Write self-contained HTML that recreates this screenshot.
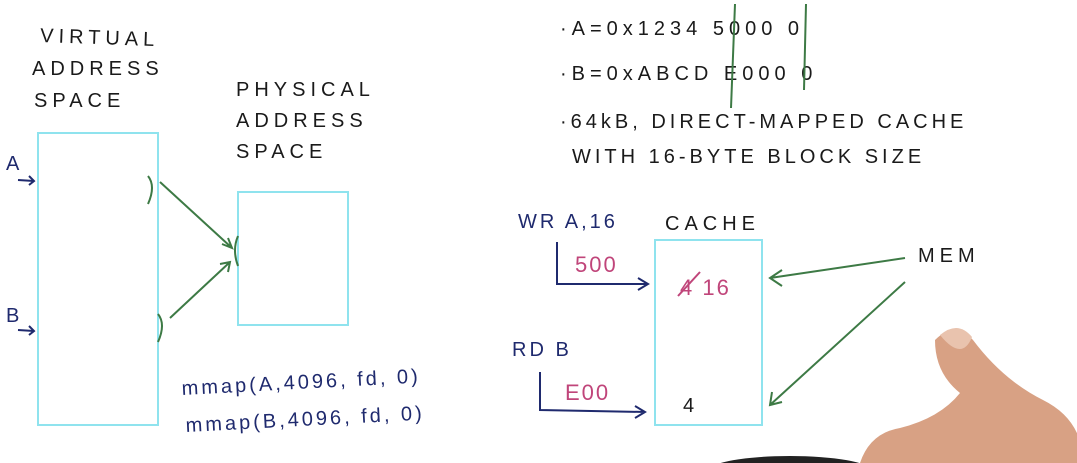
<!DOCTYPE html>
<html><head><meta charset="utf-8"><style>
html,body{margin:0;padding:0;background:#fff;}
svg{display:block}
text{font-family:"Liberation Sans",sans-serif;}
.blk{fill:#1a1a1a;font-size:20px;letter-spacing:5px}
.blu{fill:#1f2a6e;font-size:20px;letter-spacing:3px}
.pnk{fill:#c0457a;font-size:22px;letter-spacing:2px}
</style></head><body>
<svg width="1077" height="463" viewBox="0 0 1077 463">
<rect width="1077" height="463" fill="#fff"/>
<g>
<text class="blk" x="40" y="42" transform="rotate(2 40 42)">VIRTUAL</text>
<text class="blk" x="32" y="75">ADDRESS</text>
<text class="blk" x="34" y="107">SPACE</text>
</g>
<g>
<text class="blk" x="236" y="96">PHYSICAL</text>
<text class="blk" x="236" y="127">ADDRESS</text>
<text class="blk" x="236" y="158">SPACE</text>
</g>
<rect x="38" y="133" width="120" height="292" fill="none" stroke="#8fe3ee" stroke-width="2"/>
<rect x="238" y="192" width="110" height="133" fill="none" stroke="#8fe3ee" stroke-width="2"/>
<rect x="655" y="240" width="107" height="185" fill="none" stroke="#8fe3ee" stroke-width="2"/>
<g><text class="blu" x="6" y="170">A</text><path d="M18 180 L34 181 M29 176 L34 181 L29 185" stroke="#1f2a6e" stroke-width="2" fill="none"/></g>
<g><text class="blu" x="6" y="322">B</text><path d="M18 330 L34 331 M29 326 L34 331 L29 335" stroke="#1f2a6e" stroke-width="2" fill="none"/></g>
<g stroke="#3d7a45" stroke-width="2" fill="none">
<path d="M148 176 q8 10 0 28"/><path d="M160 182 L232 248 M222 244 L232 248 L228 238"/>
<path d="M158 314 q8 10 0 28"/><path d="M170 318 L230 262 M220 264 L230 262 L228 272"/>
<path d="M238 236 q-6 14 0 30"/>
</g>
<g>
<text class="blu" x="182" y="395" font-size="22" transform="rotate(-3 182 395)">mmap(A,4096, fd, 0)</text>
<text class="blu" x="186" y="432" font-size="22" transform="rotate(-3 186 432)">mmap(B,4096, fd, 0)</text>
</g>
<g>
<text class="blk" x="560" y="35" font-size="26">·A=0x1234 5000 0</text>
<text class="blk" x="560" y="80" font-size="26">·B=0xABCD E000 0</text>
<path d="M735 4 L731 108 M806 4 L804 90" stroke="#3d7a45" stroke-width="2" fill="none"/>
<text class="blk" x="560" y="128" style="letter-spacing:4px">·64kB, DIRECT-MAPPED CACHE</text>
<text class="blk" x="572" y="163" style="letter-spacing:4px">WITH 16-BYTE BLOCK SIZE</text>
</g>
<text class="blu" x="518" y="228">WR A,16</text>
<text class="blk" x="665" y="230">CACHE</text>
<path d="M557 242 L557 284 L648 284 M638 278 L648 284 L638 290" stroke="#1f2a6e" stroke-width="2" fill="none"/>
<text class="pnk" x="575" y="272">500</text>
<text class="pnk" x="680" y="295">4 16</text>
<path d="M678 296 L700 272" stroke="#c0457a" stroke-width="2"/>
<text class="blu" x="512" y="356">RD B</text>
<path d="M540 372 L540 410 L645 412 M635 406 L645 412 L635 418" stroke="#1f2a6e" stroke-width="2" fill="none"/>
<text class="pnk" x="565" y="400">E00</text>
<text class="blk" x="683" y="412" font-size="22">4</text>
<text class="blk" x="918" y="262" font-size="26">MEM</text>
<g stroke="#3d7a45" stroke-width="2" fill="none">
<path d="M905 258 L770 278 M782 270 L770 278 L782 286"/>
<path d="M905 282 L770 405 M772 392 L770 405 L782 402"/>
</g>
<g>
<path d="M935 340 q20 -20 38 0 q30 40 70 60 q40 20 40 63 L860 463 q10 -30 40 -35 q40 -10 60 -35 q-25 -20 -25 -53z" fill="#d8a184"/>
<path d="M940 335 q18 -15 32 2 q-10 25 -32 -2z" fill="#e9c3ae"/>
<ellipse cx="790" cy="470" rx="80" ry="14" fill="#222"/>
</g>
</svg>
</body></html>
